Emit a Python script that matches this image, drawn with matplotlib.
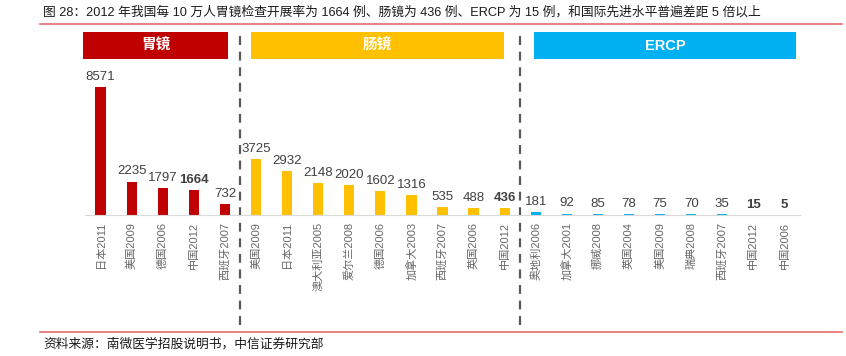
import matplotlib
matplotlib.use('Agg')
from matplotlib import pyplot as plt
from matplotlib.patches import Rectangle
from matplotlib.lines import Line2D
import matplotlib.transforms as mtrans

plt.rcParams['font.family'] = ['Liberation Sans', 'Noto Sans CJK SC', 'DejaVu Sans']

# data
gastro_labels = ['日本2011', '美国2009', '德国2006', '中国2012', '西班牙2007']
gastro_values = [8571, 2235, 1797, 1664, 732]
colon_labels = ['美国2009', '日本2011', '澳大利亚2005', '爱尔兰2008', '德国2006',
                '加拿大2003', '西班牙2007', '英国2006', '中国2012']
colon_values = [3725, 2932, 2148, 2020, 1602, 1316, 535, 488, 436]
ercp_labels = ['奥地利2006', '加拿大2001', '挪威2008', '英国2004', '美国2009',
               '瑞典2008', '西班牙2007', '中国2012', '中国2006']
ercp_values = [181, 92, 85, 78, 75, 70, 35, 15, 5]

groups = [('胃镜', gastro_labels, gastro_values, '#C00000'),
          ('肠镜', colon_labels, colon_values, '#FFC000'),
          ('ERCP', ercp_labels, ercp_values, '#00B0F0')]

title = ('图 28：2012 年我国每 10 万人胃镜检查开展率为 1664 例、肠镜为 436 例、'
         'ERCP 为 15 例，和国际先进水平普遍差距 5 倍以上')
source = '资料来源：南微医学招股说明书，中信证券研究部'

W, H = 846, 356
fig = plt.figure(figsize=(W / 100, H / 100), dpi=100)
ax = fig.add_axes([85 / W, 1 - 215 / H, 715 / W, 183 / H])

labels, values, colors, bold = [], [], [], []
for name, labs, vals, col in groups:
    labels += labs
    values += vals
    colors += [col] * len(vals)
    bold += [lab.startswith('中国') for lab in labs]
xs = list(range(len(values)))

ax.bar(xs, values, width=0.33, color=colors)
for x, v, b in zip(xs, values, bold):
    ax.annotate(str(v), (x, v), xytext=(0, 3), textcoords='offset points',
                ha='center', va='bottom', fontsize=9.5, color='#404040',
                fontweight='bold' if b else 'normal')

ax.set_xlim(-0.5, len(values) - 0.5)
ax.set_ylim(0, 12240)
ax.set_xticks(xs)
ax.set_xticklabels(labels, rotation=90, fontsize=8, color='#666666')
ax.tick_params(axis='x', length=0, pad=5)
ax.set_yticks([])
for s in ['left', 'right', 'top']:
    ax.spines[s].set_visible(False)
ax.spines['bottom'].set_color('#D9D9D9')

trans = mtrans.blended_transform_factory(ax.transData, ax.transAxes)

# group headers
spans = [(-0.56, 4.10), (4.84, 12.98), (13.94, 22.37)]
for (name, labs, vals, col), (x0, x1) in zip(groups, spans):
    ax.add_patch(Rectangle((x0, 0.852), x1 - x0, 0.148, transform=trans,
                           facecolor=col, edgecolor='none', clip_on=False))
    ax.text((x0 + x1) / 2, 0.926, name, transform=trans, ha='center',
            va='center', color='white', fontsize=10.5, fontweight='bold')

# dashed separators
for xsep in [4.5, 13.5]:
    ax.add_line(Line2D([xsep, xsep], [-0.60, 1.0], transform=trans,
                       color='#595959', lw=1.6, ls=(0, (4, 3)), clip_on=False))

fig.text(43 / W, 1 - 12 / H, title, ha='left', va='center', fontsize=9.2,
         color='#1a1a1a')
fig.add_artist(Line2D([40 / W, 842 / W], [1 - 24 / H, 1 - 24 / H],
                      color='#E46C6C', lw=1.2))
fig.add_artist(Line2D([40 / W, 842 / W], [1 - 332 / H, 1 - 332 / H],
                      color='#E46C6C', lw=1.2))
fig.text(43 / W, 1 - 344 / H, source, ha='left', va='center', fontsize=9.2,
         color='#1a1a1a')

fig.savefig('out.png', dpi=100)
